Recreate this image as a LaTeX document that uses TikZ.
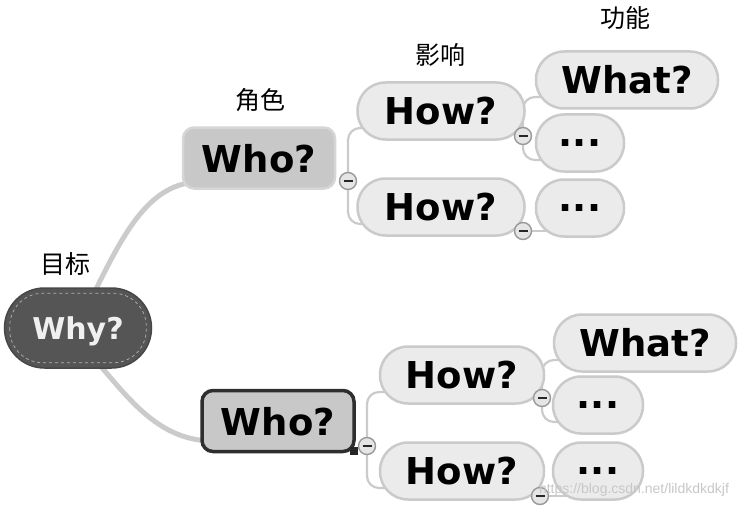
\documentclass[tikz,border=0pt]{standalone}
\usepackage{fontspec}
\setmainfont{DejaVu Sans}
\newfontfamily\cjk{Noto Sans CJK SC}
\newfontfamily\wmfont{Liberation Sans}
\usetikzlibrary{calc,backgrounds}
\definecolor{bubfill}{HTML}{EBEBEB}
\definecolor{bubline}{HTML}{CACACA}
\definecolor{whofill}{HTML}{C8C8C8}
\definecolor{whyfill}{HTML}{555555}
\definecolor{linkcol}{HTML}{CBCBCB}
\begin{document}
\begin{tikzpicture}[x=1pt,y=-1pt,
  bub/.style={draw=bubline, line width=2.5pt, fill=bubfill, rounded corners=28pt,
    minimum height=57pt, inner sep=0pt, text=black,
    font=\bfseries\fontsize{37}{40}\selectfont},
  whobox/.style={fill=whofill, rounded corners=11pt, minimum width=152pt,
    minimum height=61pt, inner sep=0pt, text depth=0pt, text=black,
    font=\bfseries\fontsize{37}{40}\selectfont},
  lab/.style={font=\cjk\fontsize{25}{25}\selectfont, text=black},
  mainlink/.style={draw=linkcol, line width=5pt},
  br/.style={draw=linkcol, line width=2.2pt, rounded corners=12pt},
  minus/.style={circle, draw=black!40, fill=black!10, line width=1.4pt,
    minimum size=17pt, inner sep=0pt,
    path picture={\draw[line width=1.8pt, black!85] ($(path picture bounding box.center)+(-4.5,0)$) -- ++(9,0);}},
]
\useasboundingbox (0,0) rectangle (754,508);

% root
\node[fill=whyfill, draw=black!72, line width=1.5pt, rounded corners=40pt,
  minimum width=147pt, minimum height=80pt, inner sep=0pt, text depth=0pt,
  text=white!94!black, font=\bfseries\fontsize{30}{32}\selectfont] (why) at (78,328) {Why?};
\draw[dashed, black!30, line width=0.7pt, rounded corners=33pt]
  ($(why.south west)+(6,-6)$) rectangle ($(why.north east)+(-6,6)$);

% second level
\node[whobox, draw=black!16, line width=2.5pt] (who1) at (259,158) {Who?};
\node[whobox, draw=black!82, line width=3.5pt] (who2) at (278,421) {Who?};

% third level
\node[bub, minimum width=167pt] (how1) at (441,111) {How?};
\node[bub, minimum width=167pt] (how2) at (441,207) {How?};
\node[bub, minimum width=164pt] (how3) at (462,375) {How?};
\node[bub, minimum width=164pt] (how4) at (462,471) {How?};

% fourth level
\node[bub, minimum width=182pt] (what1) at (627,80) {What?};
\node[bub, minimum width=88pt] (dot1) at (580,143) {...};
\node[bub, minimum width=88pt] (dot2) at (580,208) {...};
\node[bub, minimum width=182pt] (what2) at (645,343) {What?};
\node[bub, minimum width=90pt] (dot3) at (598,405) {...};
\node[bub, minimum width=90pt] (dot4) at (598,471) {...};

% labels
\node[lab] (lgoal) at (65,264) {目标};
\node[lab] (lrole) at (260,100) {角色};
\node[lab] (limpact) at (440,55) {影响};
\node[lab] (lfunc) at (625,18) {功能};

% collapse markers
\node[fill=black!85, minimum size=8pt, inner sep=0pt] (sq) at ($(who2.south east)+(-2,-2)$) {};
\node[minus] (m1) at (348,181) {};
\node[minus] (m2) at (523,136) {};
\node[minus] (m3) at (523,231) {};
\node[minus] (m4) at (367,446) {};
\node[minus] (m5) at (542,398) {};
\node[minus] (m6) at (540,496) {};

% connectors (behind the nodes)
\begin{scope}[on background layer]
  \draw[mainlink] ($(why.north)+(15,8)$) .. controls (125,230) and (150,183) .. ($(who1.south west)+(18,-8)$);
  \draw[mainlink] ($(why.south)+(18,-8)$) .. controls (130,400) and (160,442) .. ($(who2.west)+(15,20)$);
  \draw[br] ($(how1.west)+(17,17)$) -| (m1.center) |- ($(how2.west)+(17,17)$);
  \draw[br] ($(what1.west)+(17,17)$) -| (m2.center) |- ($(dot1.west)+(17,17)$);
  \draw[br] (m3.center) -- ($(dot2.west)+(25,23)$);
  \draw[br] ($(how3.west)+(17,17)$) -| (m4.center) |- ($(how4.west)+(17,17)$);
  \draw[br] ($(what2.west)+(17,17)$) -| (m5.center) |- ($(dot3.west)+(17,17)$);
  \draw[br] (m6.center) -- ($(dot4.west)+(25,25)$);
\end{scope}

% watermark
\node[font=\wmfont\fontsize{14}{14}\selectfont, text=black!22] (wm) at (634,490) {https://blog.csdn.net/lildkdkdkjf};
\end{tikzpicture}
\end{document}
